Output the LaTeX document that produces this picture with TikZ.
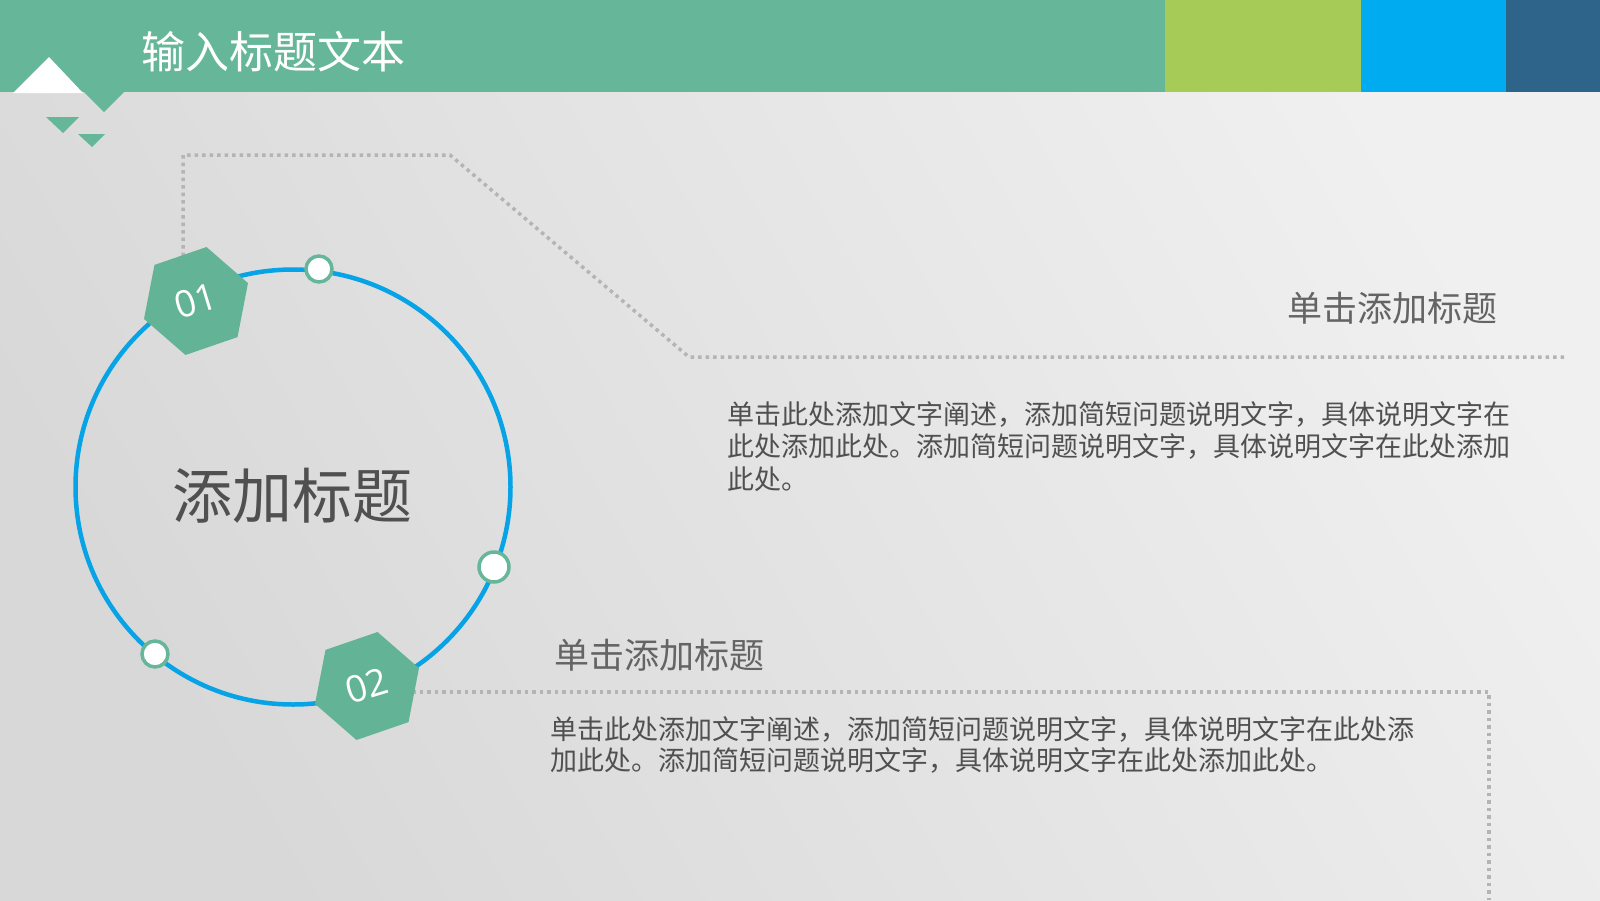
\documentclass[tikz,border=0pt]{standalone}
\usepackage{fontspec}
\newfontfamily\cjk{Noto Sans CJK SC}
\newfontfamily\numfont{Open Sans}
\usetikzlibrary{shapes.geometric}
\definecolor{hdgreen}{RGB}{102,183,154}
\definecolor{hexgreen}{RGB}{99,180,150}
\definecolor{hdlime}{RGB}{166,203,87}
\definecolor{hdblue}{RGB}{0,171,239}
\definecolor{hddark}{RGB}{46,100,138}
\definecolor{ringblue}{RGB}{6,163,230}
\definecolor{dotgray}{RGB}{180,180,180}
\definecolor{bodygray}{RGB}{80,80,80}
\definecolor{subgray}{RGB}{100,100,100}
\definecolor{bgUR}{RGB}{240,240,240}
\definecolor{bgLL}{RGB}{216,216,216}
\tikzset{
  dotline/.style={draw=dotgray, line width=3.5pt, dash pattern=on 3.5pt off 4pt},
  hexbox/.style={regular polygon, regular polygon sides=6, minimum size=110pt, inner sep=0pt,
    fill=hexgreen},
  hexnum/.style={inner sep=0pt, text=white, font=\numfont\fontsize{37}{37}\selectfont},
  knob/.style={circle, draw=hdgreen, fill=white, line width=3.5pt, minimum size=26pt, inner sep=0pt},
  bodytxt/.style={anchor=west, inner sep=0pt, text=bodygray, font=\cjk\fontsize{27}{32}\selectfont},
  subtxt/.style={inner sep=0pt, text=subgray, font=\cjk\fontsize{35}{35}\selectfont}
}
\begin{document}
\begin{tikzpicture}[x=1pt,y=-1pt]
\useasboundingbox (0,0) rectangle (1600,900);
% background
\shade[top color=bgUR, bottom color=bgLL, shading angle=-60] (0,0) rectangle (1600,900);
% header band
\fill[hdgreen] (0,0) rectangle (1165,92);
\fill[hdlime] (1165,0) rectangle (1361,92);
\fill[hdblue] (1361,0) rectangle (1506,92);
\fill[hddark] (1506,0) rectangle (1600,92);
\fill[white] (13,93) -- (49,57) -- (83,93) -- cycle;
\fill[hdgreen] (83,91) -- (125,91) -- (104,112) -- cycle;
\fill[hdgreen] (46,117) -- (79,117) -- (63,133) -- cycle;
\fill[hdgreen] (78,134) -- (105,134) -- (92,147) -- cycle;
\node[anchor=west, inner sep=0pt, text=white, font=\cjk\fontsize{44}{44}\selectfont] (title) at (141,52) {输入标题文本};
% named points
\coordinate (h1pos) at (196,301);
\coordinate (h2pos) at (367,686);
\coordinate (p1a) at (183,155);
\coordinate (p1b) at (450,155);
\coordinate (p1c) at (689,357);
\coordinate (p1d) at (1564,357);
\coordinate (p2a) at (1489,692);
\coordinate (p2b) at (1489,900);
% dotted connectors
\draw[dotline] (p1a |- h1pos) -- (p1a) -- (p1b) -- (p1c) -- (p1d);
\draw[dotline] (h2pos |- p2a) -- (p2a) -- (p2b);
% ring
\node[circle, draw=ringblue, line width=4.5pt, minimum size=435pt, inner sep=0pt] (ring) at (293,487) {};
\node[inner sep=0pt, text=bodygray, font=\cjk\fontsize{60}{60}\selectfont] (ctitle) at (292,496) {添加标题};
% hexagons
\node[hexbox, rotate=19] (h1) at (h1pos) {};
\node[hexnum, rotate=17] (n1) at (h1.center) {01};
\node[hexbox, rotate=19] (h2) at (h2pos) {};
\node[hexnum, rotate=17] (n2) at (h2.center) {02};
% knobs
\node[knob] (k1) at (319,269) {};
\node[knob, minimum size=30pt] (k2) at (494,567) {};
\node[knob] (k3) at (155,654) {};
% texts
\node[subtxt, anchor=east] (sub1) at (1498,308) {单击添加标题};
\node[subtxt, anchor=west] (sub2) at (554,655) {单击添加标题};
\node[bodytxt] (b1a) at (727,415) {单击此处添加文字阐述，添加简短问题说明文字，具体说明文字在};
\node[bodytxt] (b1b) at (727,447) {此处添加此处。添加简短问题说明文字，具体说明文字在此处添加};
\node[bodytxt] (b1c) at (727,479) {此处。};
\node[bodytxt] (b2a) at (550,729) {单击此处添加文字阐述，添加简短问题说明文字，具体说明文字在此处添};
\node[bodytxt] (b2b) at (550,760) {加此处。添加简短问题说明文字，具体说明文字在此处添加此处。};
\end{tikzpicture}
\end{document}
